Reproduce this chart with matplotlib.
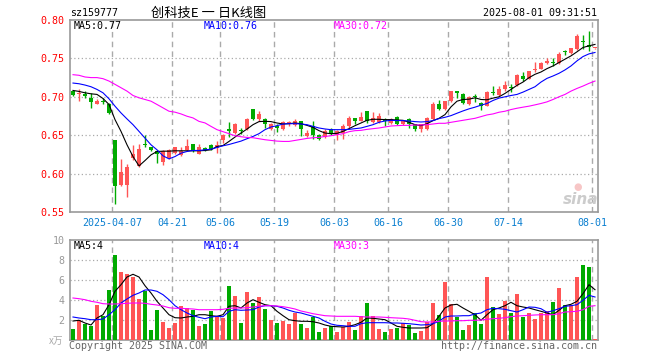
import numpy as np
import pandas as pd
import matplotlib
matplotlib.use("Agg")
import matplotlib.pyplot as plt

## trading days shown (88 sessions, 2025-03-26 .. 2025-08-01, exchange holidays removed)
holidays = ["2025-04-04", "2025-05-01", "2025-05-02", "2025-05-05", "2025-06-02"]
days = pd.bdate_range("2025-03-26", "2025-08-01")
days = days[~days.isin(pd.to_datetime(holidays))]
dates = [d.strftime("%Y-%m-%d") for d in days]

tick_dates = ["2025-04-07", "2025-04-21", "2025-05-06", "2025-05-19", "2025-06-03",
              "2025-06-16", "2025-06-30", "2025-07-14", "2025-08-01"]
tick_labels = ["2025-04-07", "04-21", "05-06", "05-19", "06-03", "06-16", "06-30", "07-14", "08-01"]

## daily prices
open_ = [0.707, 0.7035, 0.704, 0.698, 0.691, 0.695, 0.690, 0.644, 0.585, 0.585,
         0.620, 0.610, 0.6375, 0.634, 0.629, 0.615, 0.620, 0.627, 0.624, 0.631,
         0.638, 0.626, 0.6335, 0.6375, 0.633, 0.644, 0.6585, 0.653, 0.657, 0.658,
         0.6835, 0.6715, 0.6715, 0.658, 0.6615, 0.6585, 0.666, 0.663, 0.668, 0.649,
         0.6625, 0.6505, 0.6475, 0.658, 0.6505, 0.653, 0.6615, 0.672, 0.669, 0.681,
         0.667, 0.667, 0.6705, 0.666, 0.674, 0.664, 0.6705, 0.664, 0.6585, 0.6585,
         0.671, 0.691, 0.684, 0.694, 0.7074, 0.704, 0.690, 0.7005, 0.692, 0.6886,
         0.705, 0.7017, 0.7105, 0.712, 0.7149, 0.7271, 0.7236, 0.7355, 0.7367, 0.7446,
         0.744, 0.7437, 0.7579, 0.7568, 0.7621, 0.7719, 0.7673, 0.763]
high = [0.708, 0.710, 0.707, 0.705, 0.697, 0.698, 0.692, 0.644, 0.619, 0.613,
        0.637, 0.639, 0.650, 0.635, 0.631, 0.631, 0.632, 0.635, 0.634, 0.645,
        0.639, 0.638, 0.634, 0.638, 0.642, 0.651, 0.667, 0.666, 0.659, 0.673,
        0.684, 0.681, 0.672, 0.666, 0.664, 0.669, 0.669, 0.671, 0.669, 0.657,
        0.668, 0.652, 0.658, 0.659, 0.657, 0.664, 0.675, 0.673, 0.680, 0.682,
        0.680, 0.679, 0.6725, 0.672, 0.675, 0.670, 0.6725, 0.665, 0.665, 0.674,
        0.693, 0.696, 0.695, 0.708, 0.708, 0.705, 0.701, 0.703, 0.693, 0.707,
        0.714, 0.714, 0.7205, 0.7162, 0.7293, 0.7328, 0.734, 0.7455, 0.745, 0.7511,
        0.7511, 0.7577, 0.761, 0.764, 0.7817, 0.7804, 0.7856, 0.764]
low = [0.701, 0.694, 0.699, 0.685, 0.690, 0.690, 0.678, 0.560, 0.584, 0.570,
       0.618, 0.609, 0.634, 0.630, 0.614, 0.611, 0.619, 0.626, 0.623, 0.630,
       0.628, 0.625, 0.629, 0.631, 0.627, 0.640, 0.648, 0.652, 0.652, 0.657,
       0.670, 0.668, 0.659, 0.657, 0.654, 0.657, 0.662, 0.662, 0.649, 0.648,
       0.645, 0.644, 0.646, 0.650, 0.644, 0.645, 0.659, 0.665, 0.668, 0.666,
       0.666, 0.666, 0.662, 0.665, 0.663, 0.663, 0.659, 0.656, 0.654, 0.657,
       0.670, 0.683, 0.683, 0.693, 0.699, 0.691, 0.689, 0.693, 0.6825, 0.688,
       0.7017, 0.701, 0.7075, 0.7061, 0.714, 0.7205, 0.723, 0.7325, 0.736, 0.7425,
       0.7402, 0.743, 0.754, 0.756, 0.761, 0.7621, 0.760, 0.7625]
close = [0.702, 0.705, 0.701, 0.693, 0.694, 0.693, 0.679, 0.584, 0.602, 0.609,
         0.626, 0.632, 0.637, 0.631, 0.625, 0.629, 0.631, 0.634, 0.630, 0.636,
         0.630, 0.634, 0.631, 0.632, 0.6375, 0.650, 0.655, 0.665, 0.655, 0.6715,
         0.671, 0.677, 0.664, 0.664, 0.659, 0.667, 0.667, 0.669, 0.6585, 0.6535,
         0.6505, 0.645, 0.656, 0.652, 0.656, 0.6615, 0.673, 0.669, 0.674, 0.668,
         0.6725, 0.675, 0.668, 0.6705, 0.664, 0.668, 0.664, 0.6585, 0.664, 0.672,
         0.691, 0.684, 0.694, 0.707, 0.705, 0.692, 0.700, 0.700, 0.6886, 0.7061,
         0.7044, 0.7096, 0.7149, 0.7118, 0.728, 0.7236, 0.7336, 0.7358, 0.7446, 0.7468,
         0.7437, 0.7555, 0.7577, 0.7629, 0.7795, 0.7717, 0.7642, 0.7635]

## moving averages as drawn on the chart
ma5 = [0.7083, 0.707, 0.7052, 0.7039, 0.7031, 0.6978, 0.690, 0.6703, 0.655, 0.6375,
       0.6222, 0.610, 0.617, 0.6244, 0.6288, 0.6292, 0.6292, 0.6297, 0.6297, 0.6297,
       0.6297, 0.6297, 0.6301, 0.631, 0.6353, 0.6366, 0.6419, 0.6476, 0.6528, 0.658,
       0.6637, 0.6677, 0.6681, 0.6677, 0.6659, 0.6646, 0.665, 0.6659, 0.665, 0.6628,
       0.6602, 0.6559, 0.6528, 0.652, 0.6524, 0.655, 0.6585, 0.6624, 0.6659, 0.6694,
       0.6707, 0.6707, 0.6703, 0.6703, 0.6698, 0.6694, 0.6668, 0.6637, 0.6624, 0.665,
       0.669, 0.672, 0.6768, 0.6869, 0.6943, 0.6965, 0.6969, 0.6987, 0.6965, 0.6961,
       0.6983, 0.700, 0.7044, 0.7096, 0.7149, 0.7192, 0.7249, 0.7293, 0.7323, 0.7367,
       0.7402, 0.7446, 0.749, 0.7533, 0.7586, 0.7642, 0.7664, 0.7682]
ma10 = [0.7179, 0.717, 0.7153, 0.7131, 0.7096, 0.7052, 0.6974, 0.6878, 0.679, 0.6712,
        0.6637, 0.655, 0.6462, 0.6375, 0.631, 0.6231, 0.6192, 0.6222, 0.6266, 0.6288,
        0.6301, 0.6301, 0.631, 0.6318, 0.634, 0.6362, 0.6379, 0.6401, 0.6423, 0.6454,
        0.6484, 0.652, 0.6572, 0.6607, 0.6624, 0.6646, 0.665, 0.665, 0.6646, 0.6637,
        0.6615, 0.6594, 0.6581, 0.6572, 0.6572, 0.6572, 0.6576, 0.6585, 0.6594, 0.6615,
        0.6637, 0.6668, 0.6685, 0.6694, 0.669, 0.669, 0.6685, 0.6677, 0.6672, 0.6677,
        0.669, 0.6716, 0.6733, 0.6755, 0.6786, 0.6816, 0.6843, 0.6865, 0.6891, 0.6913,
        0.6952, 0.6983, 0.700, 0.7017, 0.7031, 0.7061, 0.7096, 0.7131, 0.7192, 0.724,
        0.7271, 0.7306, 0.735, 0.7402, 0.7468, 0.7524, 0.7559, 0.7577]
ma30 = [0.7288, 0.728, 0.7258, 0.725, 0.725, 0.7236, 0.7205, 0.7162, 0.7118, 0.7074,
        0.7017, 0.6987, 0.6965, 0.6943, 0.690, 0.6856, 0.6812, 0.680, 0.6777, 0.6747,
        0.6725, 0.668, 0.666, 0.6615, 0.6572, 0.6546, 0.652, 0.6493, 0.648, 0.6471,
        0.6467, 0.6454, 0.6441, 0.6432, 0.6423, 0.6419, 0.6419, 0.6432, 0.6445, 0.6458,
        0.6467, 0.6471, 0.6484, 0.6493, 0.6506, 0.652, 0.6546, 0.6559, 0.6563, 0.6576,
        0.6585, 0.6594, 0.6607, 0.662, 0.6624, 0.6628, 0.6628, 0.6633, 0.6633, 0.6637,
        0.6646, 0.6655, 0.6655, 0.6668, 0.6681, 0.6694, 0.6707, 0.672, 0.6742, 0.6764,
        0.6777, 0.6799, 0.6812, 0.6834, 0.6851, 0.6865, 0.6878, 0.6895, 0.6913, 0.6934,
        0.6965, 0.700, 0.7031, 0.7074, 0.7109, 0.714, 0.7175, 0.7205]

## volume (x 10k) and its averages
vol = [1.13, 1.97, 1.63, 1.43, 3.53, 2.43, 5.03, 8.53, 6.77, 6.63,
       6.33, 4.13, 4.87, 1.03, 3.03, 1.83, 1.23, 1.67, 3.43, 3.2,
       3.03, 1.43, 1.63, 2.87, 2.43, 2.23, 5.43, 4.43, 1.73, 4.83,
       3.7, 4.33, 3.13, 2.03, 1.73, 1.93, 1.63, 2.67, 1.63, 1.23,
       2.33, 0.83, 1.23, 1.43, 0.83, 1.33, 1.83, 1.03, 2.43, 3.73,
       2.43, 1.13, 0.83, 1.13, 1.23, 1.73, 1.53, 0.73, 0.93, 1.83,
       3.73, 2.53, 5.83, 3.63, 2.33, 1.03, 1.53, 2.73, 1.63, 6.33,
       3.33, 2.63, 3.93, 2.73, 4.63, 2.33, 2.73, 2.13, 2.73, 2.93,
       3.83, 5.23, 3.53, 3.53, 6.33, 7.53, 7.33, 0.13]
vma5 = [1.9, 1.97, 1.7, 1.5, 2.2, 2.53, 3.53, 4.87, 5.53, 6.3,
        6.57, 6.3, 5.43, 4.7, 3.87, 3.2, 2.53, 2.23, 2.2, 2.3,
        2.37, 2.53, 2.53, 2.43, 2.37, 2.53, 3.37, 3.43, 3.2, 3.7,
        4.03, 3.77, 3.53, 3.43, 2.87, 2.43, 2.03, 1.93, 1.87, 1.87,
        1.83, 1.7, 1.5, 1.37, 1.33, 1.3, 1.37, 1.53, 1.77, 2.2,
        2.17, 2.1, 2.03, 1.7, 1.37, 1.27, 1.2, 1.2, 1.2, 1.23,
        1.63, 2.37, 3.2, 3.5, 3.57, 3.2, 2.87, 2.53, 1.97, 2.53,
        3.03, 3.2, 3.43, 3.77, 3.43, 3.3, 3.2, 3.03, 2.87, 2.7,
        2.53, 2.97, 3.43, 3.57, 3.87, 4.63, 5.53, 5.03]
vma10 = [2.3, 2.2, 2.13, 2.03, 2.03, 2.1, 2.53, 3.03, 3.7, 4.1,
         4.47, 4.7, 5.0, 5.0, 4.87, 4.53, 4.03, 3.43, 3.03, 2.7,
         2.43, 2.27, 2.13, 2.3, 2.37, 2.33, 2.87, 3.03, 2.97, 3.0,
         3.03, 3.3, 3.43, 3.43, 3.37, 3.2, 2.97, 2.8, 2.7, 2.53,
         2.37, 2.2, 1.87, 1.6, 1.47, 1.43, 1.37, 1.37, 1.63, 1.73,
         1.73, 1.73, 1.73, 1.7, 1.7, 1.67, 1.63, 1.57, 1.5, 1.53,
         1.63, 1.87, 2.3, 2.4, 2.4, 2.43, 2.43, 2.6, 2.7, 3.03,
         3.17, 3.13, 3.07, 2.93, 2.8, 3.03, 3.3, 3.27, 3.13, 2.77,
         2.93, 3.13, 3.37, 3.43, 3.53, 3.97, 4.47, 4.3]
vma30 = [4.2, 4.13, 4.03, 3.87, 3.77, 3.63, 3.6, 3.6, 3.63, 3.67,
         3.7, 3.7, 3.67, 3.57, 3.5, 3.4, 3.23, 3.17, 3.17, 3.13,
         3.1, 3.03, 3.03, 3.03, 3.03, 3.07, 3.17, 3.2, 3.2, 3.23,
         3.3, 3.37, 3.43, 3.43, 3.4, 3.33, 3.23, 3.1, 2.9, 2.77,
         2.63, 2.53, 2.43, 2.4, 2.37, 2.37, 2.37, 2.37, 2.33, 2.3,
         2.3, 2.3, 2.27, 2.23, 2.2, 2.17, 2.1, 1.97, 1.83, 1.8,
         1.8, 1.87, 1.9, 1.9, 1.93, 1.93, 1.97, 1.97, 2.0, 2.07,
         2.13, 2.17, 2.23, 2.33, 2.4, 2.43, 2.47, 2.5, 2.53, 2.53,
         2.53, 2.63, 2.8, 2.83, 2.87, 3.03, 3.37, 3.43]

RED = "#ff5555"
GREEN = "#00aa00"
GRID = "#aaaaaa"
FRAME = "#999999"
MONO = "DejaVu Sans Mono"
CJK = ["Noto Sans CJK SC", "DejaVu Sans"]
LW = 0.8

W, H = 660, 360
o, h, l, c = map(np.array, (open_, high, low, close))
x = np.arange(len(dates))
up = c >= o
cols = np.where(up, RED, GREEN)
tick_pos = [dates.index(d) - 0.5 for d in tick_dates]

fig = plt.figure(figsize=(W / 100, H / 100), dpi=100)
ax = fig.add_axes([70 / W, (H - 212) / H, 528 / W, 192 / H])
axv = fig.add_axes([70 / W, (H - 340) / H, 528 / W, 100 / H])

def frame(a):
    for s in a.spines.values():
        s.set_color(FRAME)
        s.set_linewidth(1.2)
    a.set_xlim(-0.5, len(x) - 0.5)
    for p in tick_pos:
        a.axvline(p, color=GRID, lw=1, ls=(0, (4, 3)), zorder=0)

## price panel
frame(ax)
ax.set_ylim(0.55, 0.80)
for yy in [0.60, 0.65, 0.70, 0.75]:
    ax.axhline(yy, color=GRID, lw=0.9, ls=(0, (1, 2)), zorder=0)
ax.vlines(x, l, h, colors=cols, lw=1, zorder=2)
body = np.maximum(np.abs(c - o), 0.0013)
ax.bar(x, body, bottom=np.minimum(o, c), width=0.78, color=cols, zorder=3)
ax.plot(x, ma5, color="black", lw=LW, zorder=4)
ax.plot(x, ma10, color="#0000ff", lw=LW, zorder=4)
ax.plot(x, ma30, color="#ff00ff", lw=LW, zorder=4)
ax.set_yticks([0.55, 0.60, 0.65, 0.70, 0.75, 0.80])
ax.set_yticklabels(["%.2f" % v for v in ax.get_yticks()], color="#ff0000", family=MONO, fontsize=7.2)
ax.set_xticks(tick_pos)
ax.set_xticklabels(tick_labels, color="#0a7fd0", family=MONO, fontsize=7.2)
ax.tick_params(length=0, pad=4)

## volume panel
frame(axv)
axv.set_ylim(0, 10)
for yy in [2, 4, 6, 8]:
    axv.axhline(yy, color=GRID, lw=0.9, ls=(0, (1, 2)), zorder=0)
axv.bar(x, vol, width=0.78, color=cols, zorder=3)
axv.plot(x, vma5, color="black", lw=LW, zorder=4)
axv.plot(x, vma10, color="#0000ff", lw=LW, zorder=4)
axv.plot(x, vma30, color="#ff00ff", lw=LW, zorder=4)
axv.set_yticks([2, 4, 6, 8, 10])
axv.set_yticklabels(["2", "4", "6", "8", "10"], color="#999999", family=MONO, fontsize=7.2)
axv.set_xticks([])
axv.tick_params(length=0, pad=4)

def txt(px, py, s, **kw):
    kw.setdefault("family", MONO)
    kw.setdefault("fontsize", 7.2)
    kw.setdefault("va", "center")
    fig.text(px / W, 1 - py / H, s, **kw)

## header
txt(70, 13, "sz159777")
txt(209, 13, "创科技E 一 日K线图", ha="center", family=CJK, fontsize=9.5)
txt(597, 13, "2025-08-01 09:31:51", ha="right")

## legends
txt(74, 26, "MA5:0.77", color="black")
txt(204, 26, "MA10:0.76", color="#0000ff")
txt(334, 26, "MA30:0.72", color="#ff00ff")
txt(74, 246, "MA5:4", color="black")
txt(204, 246, "MA10:4", color="#0000ff")
txt(334, 246, "MA30:3", color="#ff00ff")

## footer
txt(63, 341, "x万", ha="right", color="#aaaaaa", family=CJK, fontsize=7)
txt(69, 346, "Copyright 2025 SINA.COM", color="#666666")
txt(597, 346, "http://finance.sina.com.cn", ha="right", color="#666666")

## watermark
txt(581, 199, "sina", ha="center", color="#cccccc", family="DejaVu Sans",
    fontsize=11, fontweight="bold", style="italic")
txt(578, 187, "●", ha="center", color="#f7c6c6", family="DejaVu Sans", fontsize=7)

fig.savefig("out.png", dpi=100)
